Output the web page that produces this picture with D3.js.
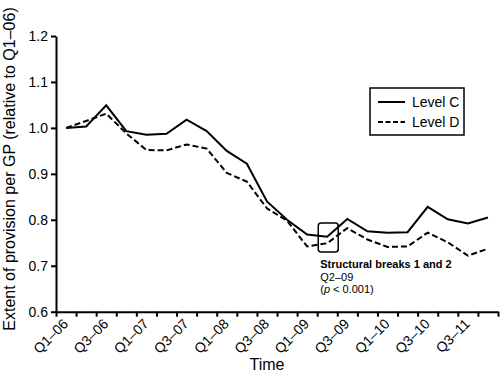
<!DOCTYPE html>
<html lang="en">
<head>
<meta charset="UTF-8">
<title>Extent of provision per GP</title>
<script src="https://d3js.org/d3.v7.min.js"></script>
<style>
  body { margin: 0; background: #fff; }
  svg { font-family: "Liberation Sans", Arial, sans-serif; }
  .axis path, .axis line { stroke: #000; stroke-width: 2px; }
  .axis text { font-size: 14px; fill: #000; }
  .line { fill: none; stroke: #000; stroke-width: 2px; }
</style>
</head>
<body>
<svg width="500" height="373"></svg>
<script>
// quarters Q1-06 .. Q2-11
var quarters = ["Q1–06","Q2–06","Q3–06","Q4–06","Q1–07","Q2–07","Q3–07","Q4–07",
                "Q1–08","Q2–08","Q3–08","Q4–08","Q1–09","Q2–09","Q3–09","Q4–09",
                "Q1–10","Q2–10","Q3–10","Q4–10","Q1–11","Q2–11"];
// labels as printed under every second quarter
var tickLabels = ["Q1–06","Q3–06","Q1–07","Q3–07","Q1–08","Q3–08",
                  "Q1–09","Q3–09","Q1–10","Q3–10","Q3–11"];
var levelC = [1.000, 1.003, 1.049, 0.993, 0.985, 0.987, 1.018, 0.993, 0.950, 0.922, 0.840,
              0.800, 0.768, 0.763, 0.802, 0.775, 0.772, 0.773, 0.828, 0.801, 0.792, 0.805];
var levelD = [1.000, 1.015, 1.031, 0.988, 0.952, 0.951, 0.964, 0.955, 0.902, 0.883, 0.825,
              0.798, 0.742, 0.749, 0.782, 0.757, 0.741, 0.742, 0.772, 0.751, 0.722, 0.737];
var yTicks = [0.6, 0.7, 0.8, 0.9, 1.0, 1.1, 1.2];

var svg = d3.select("svg");
var plotLeft = 56, plotRight = 498, plotTop = 36, plotBottom = 311.7;

var x = d3.scaleBand().domain(quarters).range([plotLeft, plotRight]).padding(0);
var xEdge = d3.scaleLinear().domain([0, quarters.length]).range([plotLeft, plotRight]);
var y = d3.scaleLinear().domain([0.6, 1.2]).range([plotBottom, plotTop]);

// y axis
svg.append("g")
   .attr("class", "axis")
   .attr("transform", "translate(" + plotLeft + ",0)")
   .call(d3.axisLeft(y).tickValues(yTicks).tickFormat(d3.format(".1f"))
         .tickSize(5).tickSizeOuter(0).tickPadding(3));

// x axis: ticks at category boundaries
svg.append("g")
   .attr("class", "axis")
   .attr("transform", "translate(0," + plotBottom + ")")
   .call(d3.axisBottom(xEdge).tickValues(d3.range(quarters.length + 1))
         .tickFormat("").tickSize(5).tickSizeOuter(0));

// x labels at every second category
var labelled = quarters.filter(function(d, i) { return i % 2 === 0; });
var xLab = svg.append("g")
   .attr("class", "axis")
   .attr("transform", "translate(0," + plotBottom + ")")
   .call(d3.axisBottom(x).tickValues(labelled)
         .tickFormat(function(d, i) { return tickLabels[i]; }).tickSize(0));
xLab.select(".domain").remove();
xLab.selectAll("text")
    .attr("text-anchor", "end")
    .attr("dy", null)
    .attr("y", 0)
    .attr("transform", "translate(3,13) rotate(-45)");

// lines
var line = d3.line()
   .x(function(d, i) { return x(quarters[i]) + x.bandwidth() / 2; })
   .y(function(d) { return y(d); });

svg.append("path").datum(levelD).attr("class", "line")
   .attr("stroke-dasharray", "6,3").attr("d", line);
svg.append("path").datum(levelC).attr("class", "line").attr("d", line);

// axis titles
svg.append("text")
   .attr("transform", "translate(15,169) rotate(-90)")
   .attr("text-anchor", "middle")
   .style("font-size", "16px")
   .text("Extent of provision per GP (relative to Q1–06)");

svg.append("text")
   .attr("x", 267).attr("y", 370)
   .attr("text-anchor", "middle")
   .style("font-size", "16px")
   .text("Time");

// legend
var legend = svg.append("g").attr("transform", "translate(370,88)");
legend.append("rect").attr("width", 94).attr("height", 47)
      .attr("fill", "#fff").attr("stroke", "#000").attr("stroke-width", 1.5);
var series = [{name: "Level C", dash: null}, {name: "Level D", dash: "5,2.5"}];
series.forEach(function(s, i) {
  legend.append("line").attr("x1", 8).attr("x2", 35)
        .attr("y1", 14 + i * 20).attr("y2", 14 + i * 20)
        .attr("stroke", "#000").attr("stroke-width", 2)
        .attr("stroke-dasharray", s.dash);
  legend.append("text").attr("x", 42).attr("y", 19 + i * 20)
        .style("font-size", "14px").text(s.name);
});

// structural break annotation (Q2-09)
var bx = x("Q2–09") + x.bandwidth() / 2;
svg.append("rect")
   .attr("x", bx - 9).attr("y", 223).attr("width", 20).attr("height", 29)
   .attr("rx", 3).attr("fill", "none").attr("stroke", "#000").attr("stroke-width", 1.5);
var note = svg.append("text").attr("x", bx - 7).style("font-size", "11px");
note.append("tspan").attr("x", bx - 7).attr("y", 268)
    .style("font-weight", "bold").text("Structural breaks 1 and 2");
note.append("tspan").attr("x", bx - 7).attr("y", 281).text("Q2–09");
note.append("tspan").attr("x", bx - 7).attr("y", 293).text("(");
note.append("tspan").style("font-style", "italic").text("p");
note.append("tspan").text(" < 0.001)");
</script>
</body>
</html>
